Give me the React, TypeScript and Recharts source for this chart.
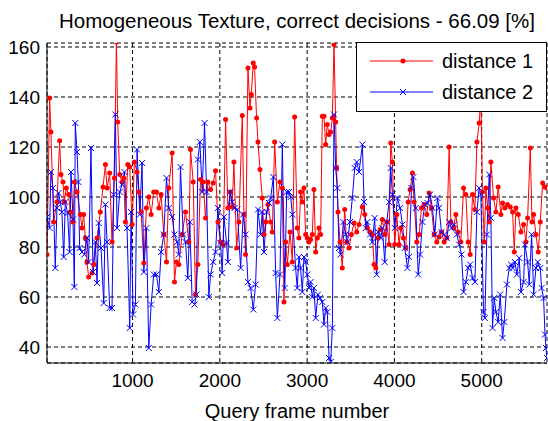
import { LineChart, Line, XAxis, YAxis, CartesianGrid } from 'recharts';

const FONT = '"Liberation Sans", Arial, Helvetica, sans-serif';

// distance 1 (red)
const d1Frames = [
  20, 50, 65, 96, 134, 165, 180, 203, 218, 241, 268, 287, 318, 333, 364, 402, 421, 440, 459, 478,
  497, 536, 555, 593, 631, 662, 689, 708, 738, 765, 792, 815, 830, 853, 880, 899, 918, 945, 968, 995,
  1021, 1052, 1071, 1098, 1129, 1159, 1186, 1213, 1243, 1274, 1301, 1327, 1358, 1389, 1415, 1454, 1480, 1503, 1530, 1568,
  1607, 1645, 1664, 1695, 1721, 1748, 1779, 1809, 1836, 1863, 1894, 1924, 1951, 1978, 2008, 2039, 2066, 2092, 2123, 2142,
  2161, 2192, 2219, 2257, 2276, 2295, 2322, 2345, 2360, 2383, 2398, 2421, 2437, 2460, 2486, 2506, 2525, 2551, 2582, 2601,
  2628, 2659, 2689, 2716, 2735, 2754, 2773, 2804, 2831, 2857,
  2887, 2906, 2925, 2945, 2964, 2983, 3002, 3021, 3040, 3059, 3078, 3098, 3117, 3136, 3155, 3174, 3193, 3212, 3231, 3251,
  3270, 3289, 3308, 3327, 3338, 3354, 3377, 3403, 3430, 3453, 3480, 3507, 3537, 3568, 3595, 3633, 3660, 3690, 3721, 3748,
  3767, 3786, 3813, 3836, 3862, 3889, 3912, 3939, 3958, 3977, 4004, 4027, 4053, 4073, 4103, 4130, 4157, 4180, 4207, 4226,
  4256, 4283, 4310, 4340, 4371, 4398, 4424, 4455, 4486, 4512, 4539, 4570, 4600, 4627, 4646, 4677, 4704, 4730, 4761, 4792,
  4818, 4845, 4868, 4895, 4922, 4945, 4971, 4990, 5009, 5029, 5048, 5067, 5086, 5105, 5136, 5163, 5189, 5220, 5239, 5266,
  5296, 5327, 5354, 5373, 5392, 5419, 5449, 5480, 5507, 5526, 5557, 5576, 5595, 5621, 5648, 5671, 5698, 5725, 5748,
];
const d1Values = [
  77, 139.6, 126, 90, 98, 122.5, 109, 106, 98, 103.6, 101, 94, 90, 106, 102, 93, 87.6, 93, 83.6, 74,
  68, 69.6, 73, 83.6, 94, 104, 113, 103.6, 109.6, 82, 107.6, 162, 130, 109, 106, 107.6, 90, 113, 112, 89,
  114, 110, 102, 94, 73.6, 95.6, 100, 93, 102, 102, 95.6, 101, 85, 74, 103.6, 117.6, 66, 74, 73, 85,
  94, 82, 119, 106, 61, 73, 107, 106, 91.6, 106, 103, 105.6, 110.5, 90, 82, 81, 131, 95.6, 102, 96,
  114, 79.6, 90, 132.6, 93, 77, 151.6, 135.6, 141, 153.6, 152, 131.6, 122, 111, 99.6, 85, 90, 97, 90, 86,
  122, 98, 106, 103.6, 58, 82, 73, 86, 74, 132,
  87.6, 83.6, 102, 98, 103.6, 85, 83.6, 82, 83, 85, 103, 78, 83.6, 87.6, 85, 132.3, 132.3, 121, 129, 125,
  126, 131.6, 161, 130, 111.6, 94, 82, 71.6, 95, 82, 79.6, 85, 89.6, 86, 89, 96, 93, 87.6, 86, 85,
  73, 71.6, 83.6, 87, 91, 85, 90, 81, 121.6, 114, 81, 93, 81, 87.6, 83.6, 79.6, 98, 103, 109.6, 98,
  82, 85, 95.6, 97, 93, 101.6, 95.6, 85, 82, 84, 86, 82, 83.6, 120, 90, 87.6, 93, 86, 82, 103.6,
  101, 82, 77, 101, 95, 122, 129.6, 140, 102, 82, 103.6, 95.6, 90, 114, 99.6, 94, 104, 93, 97.6, 95.6,
  97, 96, 94, 78, 95.6, 93, 86, 89, 82, 91.6, 119.6, 90, 93, 85, 78, 90, 105.6, 104, 103.6,
];

// distance 2 (blue)
const d2Frames = [
  20, 50, 65, 88, 115, 134, 153, 172, 191, 211, 230, 256, 279, 295, 318, 333, 344, 364, 379, 394,
  421, 448, 478, 497, 524, 547, 574, 593, 612, 639, 670, 689, 708, 738, 765, 784, 803, 823, 853, 880,
  907, 937, 968, 983, 1006, 1033, 1052, 1083, 1109, 1129, 1159, 1186, 1213, 1243, 1274, 1301, 1327, 1358, 1389, 1415,
  1454, 1480, 1511, 1530, 1549, 1580, 1607, 1633, 1656, 1683, 1710, 1733, 1748, 1771, 1798, 1825, 1848, 1874, 1894, 1924,
  1951, 1978, 2008, 2027, 2047, 2077, 2092, 2115, 2142, 2169, 2200, 2238, 2268, 2295, 2322, 2353, 2383, 2410, 2437, 2467,
  2486, 2506, 2536, 2563, 2582, 2613, 2639, 2659, 2689, 2716, 2743, 2766, 2792, 2812, 2831,
  2868, 2887, 2906, 2925, 2945, 2964, 2983, 3002, 3021, 3040, 3059, 3078, 3098, 3124, 3147, 3174, 3193, 3212, 3231, 3251,
  3270, 3289, 3308, 3327, 3346, 3365, 3384, 3415, 3442, 3461, 3491, 3518, 3545, 3568, 3595, 3633, 3652, 3671, 3690, 3721,
  3748, 3774, 3797, 3813, 3843, 3862, 3889, 3912, 3939, 3958, 3977, 4004, 4034, 4065, 4092, 4119, 4149, 4168, 4195, 4218,
  4245, 4272, 4294, 4321, 4348, 4379, 4409, 4436, 4463, 4493, 4512, 4539, 4570, 4600, 4627, 4654, 4685, 4715, 4742, 4769,
  4792, 4818, 4845, 4868, 4895, 4922, 4945, 4971, 4990, 5021, 5036, 5059, 5086, 5105, 5124, 5143, 5163, 5189, 5212, 5239,
  5258, 5289, 5316, 5335, 5354, 5381, 5403, 5430, 5449, 5480, 5495, 5526, 5545, 5572, 5595, 5621, 5641, 5671, 5686, 5709,
  5725, 5736, 5748,
];
const d2Values = [
  92, 87.6, 110, 103.6, 71.6, 95.6, 101.6, 98, 94, 76, 98, 93.6, 78, 110, 91, 64, 129.6, 118, 106, 79.6,
  78, 77, 83.6, 74, 119.6, 70, 82, 65.6, 89.6, 79.6, 57.6, 97, 82, 55.6, 55.6, 101, 133, 87.6, 102, 105,
  110, 87.6, 47.6, 94, 53, 57, 119, 93, 113.6, 70, 87.6, 39.6, 57, 69, 69, 62, 78, 85, 107.6, 95.6,
  92, 85, 82, 77, 112, 85, 82, 67.6, 90, 58, 57, 61, 115, 122, 102, 129.6, 102, 60, 69, 74,
  78, 95.6, 81.6, 69.6, 92, 81.6, 74, 102, 98, 95.6, 95, 71.6, 93, 85, 66, 63.6, 55, 65, 95, 85,
  94, 78, 94, 97.6, 99.6, 108, 69.6, 51.6, 69, 121, 63.6, 102, 102, 100, 93,
  71.6, 63.6, 76, 71.6, 62, 76, 74, 69, 63.6, 66, 60, 63.6, 51.6, 61, 59.6, 58, 49, 55.6, 54, 35.6,
  34, 47.6, 133, 111.6, 103.6, 79.6, 77, 90, 85, 82, 90, 99.6, 111.6, 114, 110, 121, 98, 87.6, 90, 85,
  82, 91.6, 69, 86, 83.6, 87.6, 74, 90, 98, 111.6, 101, 87.6, 99.6, 95.6, 89, 79.6, 71.6, 76, 103.6, 108,
  95.6, 69, 77, 90, 97, 97.6, 101, 95.6, 85, 99.6, 95.6, 86, 85, 83.6, 90, 87.6, 89, 85, 81, 77,
  62, 66, 71.6, 73, 67.6, 66, 94, 103.6, 101, 54, 51.6, 85, 109, 91.6, 47.6, 59.6, 54, 50, 61, 43.6,
  50, 65, 71.6, 73, 71.6, 74, 69, 75.6, 62, 66, 81, 74, 65, 85, 61, 71.6, 74, 71.6, 63.6, 59.6,
  45, 39.6, 35.6,
];

const xTicks = [1000, 2000, 3000, 4000, 5000];
const yTicks = [40, 60, 80, 100, 120, 140, 160];

const d1Data = d1Frames.map((f, i) => ({ f, v: d1Values[i] }));
const d2Data = d2Frames.map((f, i) => ({ f, v: d2Values[i] }));

const RedDot = (props: any) => {
  const { cx, cy, index } = props;
  if (cx == null || cy == null) return null;
  return <circle key={`r${index}`} cx={cx} cy={cy} r={2.5} fill="#ff0000" stroke="none" />;
};

const BlueX = (props: any) => {
  const { cx, cy, index } = props;
  if (cx == null || cy == null) return null;
  const s = 3;
  return (
    <path
      key={`b${index}`}
      d={`M${cx - s},${cy - s}L${cx + s},${cy + s}M${cx - s},${cy + s}L${cx + s},${cy - s}`}
      stroke="#0000ff"
      strokeWidth={1}
      fill="none"
    />
  );
};

const tickStyle = { fill: '#000', fontSize: 19, fontFamily: FONT };

export default function App() {
  return (
    <div style={{ position: 'absolute', left: 0, top: 0, width: 548, height: 421, background: '#fff', fontFamily: FONT }}>
      <div style={{ position: 'absolute', left: 47, top: 10, width: 500, textAlign: 'center', fontSize: 20.5, lineHeight: '22px', color: '#000', whiteSpace: 'nowrap' }}>
        Homogeneous Texture, correct decisions - 66.09 [%]
      </div>

      <LineChart width={548} height={421} margin={{ top: 43, right: 1, bottom: 0, left: 0 }}>
        <CartesianGrid stroke="#000" strokeDasharray="4 3" />
        <XAxis
          type="number"
          dataKey="f"
          domain={[20, 5748]}
          ticks={xTicks}
          allowDataOverflow
          height={58}
          tickLine={false}
          tickSize={0}
          tickMargin={11}
          axisLine={{ stroke: '#000' }}
          tick={tickStyle}
          label={{ value: 'Query frame number', position: 'insideBottom', offset: 3, fill: '#000', fontSize: 20, fontFamily: FONT }}
        />
        <YAxis
          type="number"
          domain={[33.6, 161.6]}
          ticks={yTicks}
          allowDataOverflow
          width={47}
          tickLine={false}
          tickSize={0}
          tickMargin={7}
          axisLine={{ stroke: '#000' }}
          tick={tickStyle}
        />
        <Line data={d1Data} dataKey="v" stroke="#ff0000" strokeWidth={1} dot={RedDot} activeDot={false} isAnimationActive={false} />
        <Line data={d2Data} dataKey="v" stroke="#0000ff" strokeWidth={1} dot={BlueX} activeDot={false} isAnimationActive={false} />
      </LineChart>

      {/* legend box */}
      <div style={{ position: 'absolute', left: 356, top: 42, width: 189, height: 68, border: '1px solid #000', background: '#fff' }}>
        <svg width={189} height={68} style={{ position: 'absolute', left: 0, top: 0 }}>
          <line x1={13} y1={18} x2={76} y2={18} stroke="#ff0000" strokeWidth={1} />
          <circle cx={46} cy={18} r={2.5} fill="#ff0000" />
          <line x1={13} y1={49} x2={76} y2={49} stroke="#0000ff" strokeWidth={1} />
          <path d="M43,46L49,52M43,52L49,46" stroke="#0000ff" strokeWidth={1} />
          <text x={85} y={25} fontSize={20} fontFamily={FONT} fill="#000">distance 1</text>
          <text x={85} y={56} fontSize={20} fontFamily={FONT} fill="#000">distance 2</text>
        </svg>
      </div>
    </div>
  );
}
